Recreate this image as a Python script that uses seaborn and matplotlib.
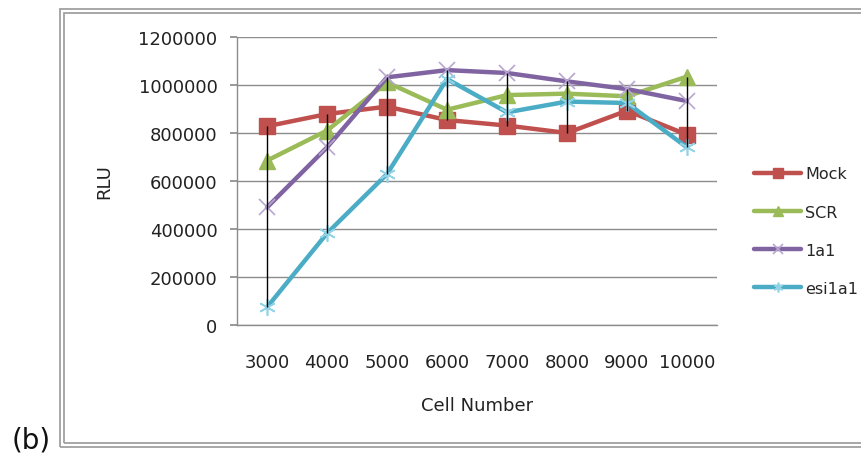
import matplotlib
matplotlib.use("Agg")
import matplotlib.pyplot as plt
from matplotlib.patches import Rectangle
import numpy as np
import seaborn as sns

# Luciferase readout (RLU) versus number of seeded cells
cell_numbers = ["3000", "4000", "5000", "6000", "7000", "8000", "9000", "10000"]
mock = [828000, 879000, 910000, 854000, 831000, 800000, 893000, 793000]
scr = [685000, 810000, 1011000, 897000, 958000, 964000, 953000, 1035000]
a1 = [490000, 740000, 1032000, 1062000, 1050000, 1015000, 983000, 933000]
esi1a1 = [74000, 382000, 629000, 1025000, 886000, 931000, 925000, 740000]
series_names = ["Mock", "SCR", "1a1", "esi1a1"]
y_ticks = [0, 200000, 400000, 600000, 800000, 1000000, 1200000]

sns.set_theme(style="white")
plt.rcParams["font.family"] = ["DejaVu Sans"]

fig = plt.figure(figsize=(8.62, 4.60), dpi=100)
ax = fig.add_axes([237 / 862, 1 - 326 / 460, 480 / 862, 288 / 460])

styles = [
    dict(color="#C0504D", marker="s", mfc="#C0504D", mec="#C0504D", ms=11, mew=1),
    dict(color="#9BBB59", marker="^", mfc="#9BBB59", mec="#9BBB59", ms=11, mew=1),
    dict(color="#8064A2", marker="x", mfc="none", mec="#B7A6CF", ms=11, mew=1.2),
    dict(color="#4BACC6", marker=(6, 2, 0), mfc="none", mec="#92D3E6", ms=12, mew=1.2),
]
all_series = [mock, scr, a1, esi1a1]
for name, vals, st in zip(series_names, all_series, styles):
    sns.lineplot(x=cell_numbers, y=vals, ax=ax, label=name, linewidth=3.2,
                 color=st["color"], marker=st["marker"],
                 markerfacecolor=st["mfc"], markeredgecolor=st["mec"],
                 markersize=st["ms"], markeredgewidth=st["mew"], zorder=3)

# high-low lines joining the extremes at each cell number
arr = np.array(all_series)
xpos = np.arange(len(cell_numbers))
ax.vlines(xpos, arr.min(axis=0), arr.max(axis=0), color="black", linewidth=1.0, zorder=5)

ax.set_xlim(-0.5, len(cell_numbers) - 0.5)
ax.set_ylim(0, 1200000)
ax.set_yticks(y_ticks)
ax.set_yticklabels([str(v) for v in y_ticks])
ax.yaxis.grid(True, color="#8C8C8C", linewidth=1.0)
ax.set_axisbelow(True)
for s in ["top", "right"]:
    ax.spines[s].set_visible(False)
for s in ["left", "bottom"]:
    ax.spines[s].set_color("#8C8C8C")
    ax.spines[s].set_linewidth(1.0)
ax.tick_params(axis="y", which="both", left=True, length=5, color="#8C8C8C",
               labelsize=13, pad=9, labelcolor="#222222")
ax.tick_params(axis="x", bottom=False, labelsize=13, pad=14, labelcolor="#222222")
ax.set_xlabel("Cell Number", fontsize=13, color="#222222")
ax.set_ylabel("RLU", fontsize=13, color="#222222")
ax.xaxis.set_label_coords(0.5, (326 - 397) / 288)
ax.yaxis.set_label_coords((113 - 237) / 480, 0.5)

ax.legend_.remove()
handles, labels = ax.get_legend_handles_labels()
leg = fig.legend(handles, labels, loc="upper left", bbox_to_anchor=(748 / 862, 1 - 161 / 460),
                 frameon=False, fontsize=11.5, handlelength=2.9, labelspacing=1.45,
                 handletextpad=0.3, borderaxespad=0)
for h in leg.legend_handles:
    h.set_markersize(7)

# double outer border of the chart area (runs past the right edge)
for off in (0, 4):
    fig.patches.append(Rectangle(((60 + off) / 862, (460 - 448 + off) / 460),
                                 860 / 862, (438 - 2 * off) / 460,
                                 transform=fig.transFigure, fill=False,
                                 edgecolor="#A0A0A0", linewidth=1.3))

fig.text(12 / 862, 1 - 441 / 460, "(b)", fontsize=20, va="center", ha="left", color="#111111")

fig.savefig("out.png", dpi=100)
